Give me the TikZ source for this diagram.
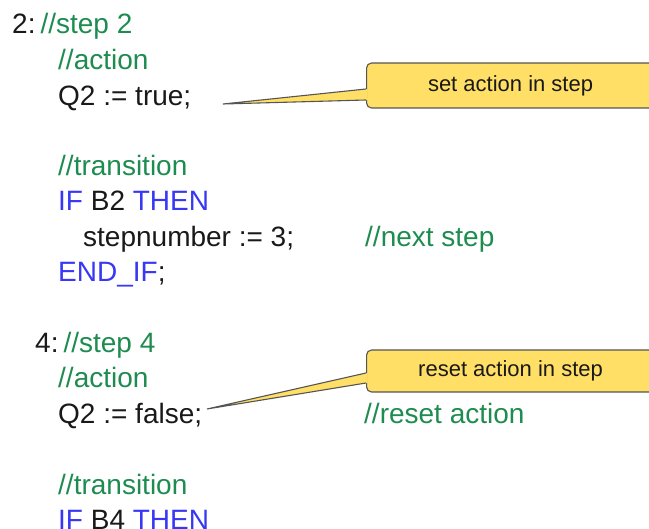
\documentclass[tikz,border=0pt]{standalone}
\usepackage{fontspec}
\setmainfont{Liberation Sans}
\usetikzlibrary{positioning,calc}
\definecolor{codegreen}{RGB}{30,140,80}
\definecolor{codeblue}{RGB}{55,55,245}
\definecolor{codeblack}{RGB}{25,25,25}
\definecolor{notefill}{RGB}{255,223,102}
\definecolor{noteline}{RGB}{85,85,85}
\newcommand{\kwd}[1]{\textcolor{codeblue}{#1}}
\newcommand{\cmt}[1]{\textcolor{codegreen}{#1}}
\tikzset{
  codeline/.style={anchor=base west, inner sep=0pt, text=codeblack, font=\fontsize{28}{32}\selectfont},
  comment/.style={codeline, text=codegreen},
  notebox/.style={rectangle, draw=noteline, fill=notefill, line width=1.1pt, rounded corners=5pt,
                  anchor=west, minimum width=288pt, inner sep=0pt, text=codeblack,
                  font=\fontsize{22}{26}\selectfont},
  pointer/.style={draw=noteline, line width=1.1pt, line join=miter},
}

\begin{document}
\begin{tikzpicture}[x=1pt, y=-1pt]
\useasboundingbox (0,0) rectangle (649,529);
\clip (0,0) rectangle (649,529);

%Step 2
\node[codeline] (step2) at (12,34) {2:\hspace{5pt}\cmt{//step 2}};
\node[comment] (action2) at (58,70) {//action};
\node[codeline] (settrue) at (58,105.5) {Q2 := true;};
\node[comment] (trans2) at (58,176) {//transition};
\node[codeline] (if2) at (58,211) {\kwd{IF} B2 \kwd{THEN}};
\node[codeline] (next) at (83,246.5) {stepnumber := 3;};
\node[comment] (nextcmt) at (365,246.5) {//next step};
\node[codeline] (endif2) at (58,282) {\kwd{END\_IF};};

%Step 4
\node[codeline] (step4) at (35,353) {4:\hspace{5pt}\cmt{//step 4}};
\node[comment] (action4) at (58,388) {//action};
\node[codeline] (setfalse) at (58,423.5) {Q2 := false;};
\node[comment] (resetcmt) at (364,423.5) {//reset action};
\node[comment] (trans4) at (58,494.5) {//transition};
\node[codeline] (if4) at (58,530) {\kwd{IF} B4 \kwd{THEN}};

%Callouts
\node[notebox, minimum height=45pt] (setnote) at (366,85.5) {set action in step};
\coordinate (settip) at (223,104);
\fill[notefill] (settip) -- ($(setnote.west)+(1.5,3.5)$) -- ($(setnote.west)+(1.5,14.5)$) -- cycle;
\draw[pointer] ($(setnote.west)+(0,3.5)$) -- (settip) -- ($(setnote.west)+(0,14.5)$);

\node[notebox, minimum height=42pt] (resetnote) at (366,371) {reset action in step};
\coordinate (resettip) at (207,409);
\fill[notefill] (resettip) -- ($(resetnote.west)+(1.5,2)$) -- ($(resetnote.west)+(1.5,12)$) -- cycle;
\draw[pointer] ($(resetnote.west)+(0,2)$) -- (resettip) -- ($(resetnote.west)+(0,12)$);
\end{tikzpicture}
\end{document}
